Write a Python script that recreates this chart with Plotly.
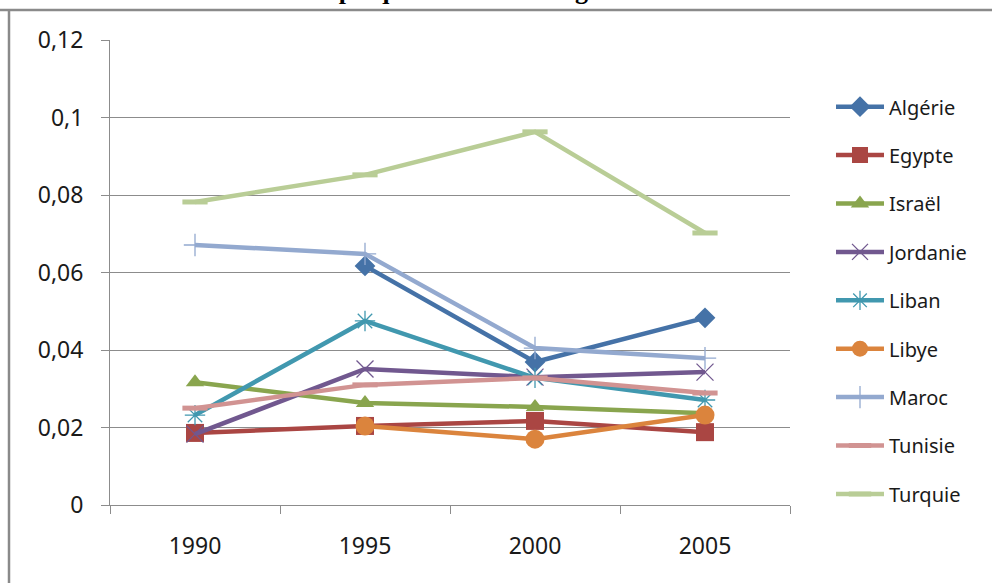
import plotly.graph_objects as go

years = ["1990", "1995", "2000", "2005"]
countries = ["Algérie", "Egypte", "Israël", "Jordanie", "Liban", "Libye", "Maroc", "Tunisie", "Turquie"]
algerie = [None, 0.0617, 0.0369, 0.0483]
egypte = [0.0186, 0.0204, 0.0217, 0.0188]
israel = [0.0317, 0.0263, 0.0253, 0.0237]
jordanie = [0.0183, 0.0351, 0.0330, 0.0343]
liban = [0.0232, 0.0475, 0.0328, 0.0271]
libye = [None, 0.0204, 0.0170, 0.0232]
maroc = [0.0671, 0.0648, 0.0405, 0.0379]
tunisie = [0.0250, 0.0310, 0.0328, 0.0289]
turquie = [0.0782, 0.0852, 0.0963, 0.0702]
series = [algerie, egypte, israel, jordanie, liban, libye, maroc, tunisie, turquie]

ytickvals = [0, 0.02, 0.04, 0.06, 0.08, 0.1, 0.12]
yticktext = ["0", "0,02", "0,04", "0,06", "0,08", "0,1", "0,12"]

colors = ["#4572A7", "#AA4643", "#89A54E", "#71588F", "#4198AF", "#DB843D", "#93A9CF", "#D19392", "#B9CD96"]
markers = [
    dict(symbol="diamond", size=16),
    dict(symbol="square", size=18),
    dict(symbol="triangle-up", size=16),
    dict(symbol="x-thin-open", size=17, line=dict(width=1.3, color="#9B87B5")),
    dict(symbol="asterisk-open", size=17, line=dict(width=1.3, color="#6CBCD0")),
    dict(symbol="circle", size=19),
    dict(symbol="cross-thin-open", size=16, line=dict(width=1.3, color="#93A9CF")),
    dict(symbol="line-ew-open", size=18, line=dict(width=5, color="#D19392")),
    dict(symbol="line-ew-open", size=18, line=dict(width=5, color="#B9CD96")),
]

fig = go.Figure()
for name, vals, col, mk in zip(countries, series, colors, markers):
    m = dict(color=col, **mk)
    fig.add_trace(go.Scatter(x=years, y=vals, name=name, mode="lines+markers",
                             line=dict(color=col, width=4.5), marker=m,
                             legendgroup=name))

axis_col = "#8C8C8C"
fig.update_layout(
    width=992, height=583,
    margin=dict(l=110, r=202, t=40, b=78),
    paper_bgcolor="white", plot_bgcolor="white",
    font=dict(family="Noto Sans", size=20, color="#1a1a1a"),
    showlegend=True,
    legend=dict(x=1.0603, xanchor="left", y=0.8985, yanchor="top",
                tracegroupgap=19.4, font=dict(size=20), itemwidth=48,
                bgcolor="rgba(0,0,0,0)"),
    xaxis=dict(type="category", range=[-0.5, 3.5], showgrid=False,
               showline=True, linecolor=axis_col, linewidth=1,
               ticks="outside", tickson="boundaries", ticklen=8, tickcolor=axis_col,
               ticklabelstandoff=20, tickfont=dict(size=23)),
    yaxis=dict(range=[0, 0.12], tickvals=ytickvals, ticktext=yticktext,
               showgrid=True, gridcolor=axis_col, gridwidth=1,
               showline=True, linecolor=axis_col, linewidth=1,
               ticks="outside", ticklen=8, tickcolor=axis_col,
               ticklabelstandoff=13, zeroline=False, tickfont=dict(size=23)),
    shapes=[
        dict(type="line", xref="paper", yref="paper", x0=-0.2, x1=1.4,
             y0=(505 - 10) / 465, y1=(505 - 10) / 465,
             line=dict(color="#8A8A8A", width=2.5)),
        dict(type="line", xref="paper", yref="paper",
             x0=(9 - 110) / 680, x1=(9 - 110) / 680,
             y0=(505 - 10) / 465, y1=-0.3,
             line=dict(color="#8A8A8A", width=2.5)),
    ],
    annotations=[
        dict(text="<b>Graphique II. 4: Les marges bancaires</b>", xref="paper", yref="paper",
             x=(508 - 110) / 680, y=(505 - 7) / 465, xanchor="center", yanchor="bottom",
             showarrow=False, font=dict(family="Liberation Serif", size=26, color="black")),
    ],
)

fig.write_html("out.html", post_script="document.body.style.margin='0';",
               config={"displayModeBar": False})
